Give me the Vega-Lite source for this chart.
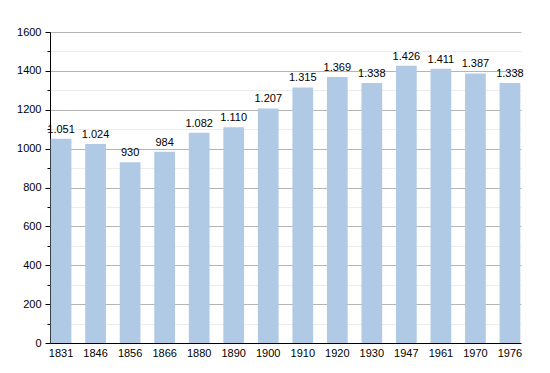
{
  "$schema": "https://vega.github.io/schema/vega-lite/v6.json",
  "width": 471,
  "height": 311,
  "autosize": {"type": "none"},
  "padding": {"left": 50, "top": 32, "right": 29, "bottom": 30},
  "background": "white",
  "config": {
    "view": {"stroke": null},
    "locale": {"number": {"decimal": ",", "thousands": ".", "grouping": [3], "currency": ["", " €"]}},
    "font": "Liberation Sans"
  },
  "data": {"values": [
    {"year": "1831", "pop": 1051},
    {"year": "1846", "pop": 1024},
    {"year": "1856", "pop": 930},
    {"year": "1866", "pop": 984},
    {"year": "1880", "pop": 1082},
    {"year": "1890", "pop": 1110},
    {"year": "1900", "pop": 1207},
    {"year": "1910", "pop": 1315},
    {"year": "1920", "pop": 1369},
    {"year": "1930", "pop": 1338},
    {"year": "1947", "pop": 1426},
    {"year": "1961", "pop": 1411},
    {"year": "1970", "pop": 1387},
    {"year": "1976", "pop": 1338}
  ]},
  "encoding": {
    "x": {"field": "year", "type": "ordinal", "scale": {"paddingInner": 0.4, "paddingOuter": 0.02},
      "axis": {"title": null, "labelAngle": 0, "ticks": false, "domainColor": "black", "labelFontSize": 11, "labelColor": "black", "labelPadding": 4}}
  },
  "layer": [
    {
      "mark": {"type": "bar", "color": "#b0c9e5"},
      "encoding": {
        "y": {"field": "pop", "type": "quantitative", "scale": {"domain": [0, 1600], "nice": false},
          "axis": {"title": null, "values": [100, 300, 500, 700, 900, 1100, 1300, 1500], "labels": false, "domain": false,
            "grid": true, "gridColor": "#ececec", "tickColor": "black", "tickSize": 3, "orient": "left", "zindex": 0}}
      }
    },
    {
      "mark": {"type": "text", "dy": -9, "fontSize": 11, "color": "black"},
      "encoding": {
        "y": {"field": "pop", "type": "quantitative",
          "axis": {"title": null, "values": [0, 200, 400, 600, 800, 1000, 1200, 1400, 1600], "format": "d", "domainColor": "black",
            "grid": true, "gridColor": "#b4b4b4", "tickColor": "black", "tickSize": 5, "orient": "left", "labelFontSize": 11, "labelColor": "black", "labelPadding": 4, "zindex": 0}},
        "text": {"field": "pop", "type": "quantitative", "format": ",d"}
      }
    }
  ],
  "resolve": {"axis": {"y": "independent"}}
}
